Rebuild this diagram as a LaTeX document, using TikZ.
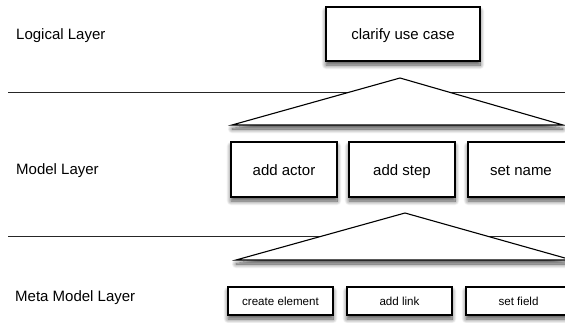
\documentclass[tikz,border=0pt]{standalone}
\usepackage{fontspec}
\setmainfont{Liberation Sans}
\usepackage{tikz}
\usetikzlibrary{shadows.blur}

\begin{document}
\begin{tikzpicture}[
    x=1pt, y=-1pt,
    layer/.style={anchor=base west, font=\fontsize{15}{18}\selectfont, inner sep=0pt},
    shade/.style={blur shadow={shadow xshift=0pt, shadow yshift=-4pt,
                  shadow blur steps=10, shadow blur radius=4.5pt, shadow opacity=70}},
    op/.style={draw=black, fill=white, line width=1.1pt, shade, inner sep=0pt,
               font=\fontsize{15}{18}\selectfont, text height=11pt, text depth=0pt,
               minimum width=106pt, minimum height=55pt},
    meta/.style={draw=black, fill=white, line width=1.1pt, shade, inner sep=0pt,
                 font=\fontsize{11.6}{14}\selectfont, text height=8.4pt, text depth=0pt,
                 minimum width=105pt, minimum height=28pt},
    split/.style={draw=black!85, line width=1pt},
    fan/.style={draw=black, fill=white, line width=1.1pt, line join=miter, shade}
]
\useasboundingbox (0,0) rectangle (565,322);
\clip (0,0) rectangle (565,322);

% layer names
\node[layer] (logical) at (16,39)  {Logical Layer};
\node[layer] (model)   at (16,174) {Model Layer};
\node[layer] (metamod) at (15,301) {Meta Model Layer};

% layer borders
\coordinate (b1l) at (8,92);  \coordinate (b1r) at (566,92);
\coordinate (b2l) at (8,236); \coordinate (b2r) at (566,236);
\draw[split] (b1l) -- (b1r);
\draw[split] (b2l) -- (b2r);

% logical layer
\node[op, minimum width=154pt, minimum height=54pt] (clarify) at (403,34) {clarify use case};

% refinement into the model layer
\coordinate (t1a) at (400,78);
\coordinate (t1l) at (232,125);
\coordinate (t1r) at (563,125);
\path[fan] (t1a) -- (t1l) -- (t1r) -- cycle;

\node[op] (actor) at (284,169.5) {add actor};
\node[op] (step)  at (402,169.5) {add step};
\node[op] (name)  at (521,169.5) {set name};

% refinement into the meta model layer
\coordinate (t2a) at (405,213);
\coordinate (t2l) at (236,260);
\coordinate (t2r) at (572,260);
\path[fan] (t2a) -- (t2l) -- (t2r) -- cycle;

\node[meta] (create) at (280.5,301) {create element};
\node[meta] (link)   at (399.5,301) {add link};
\node[meta] (field)  at (518.5,301) {set field};
\end{tikzpicture}
\end{document}
